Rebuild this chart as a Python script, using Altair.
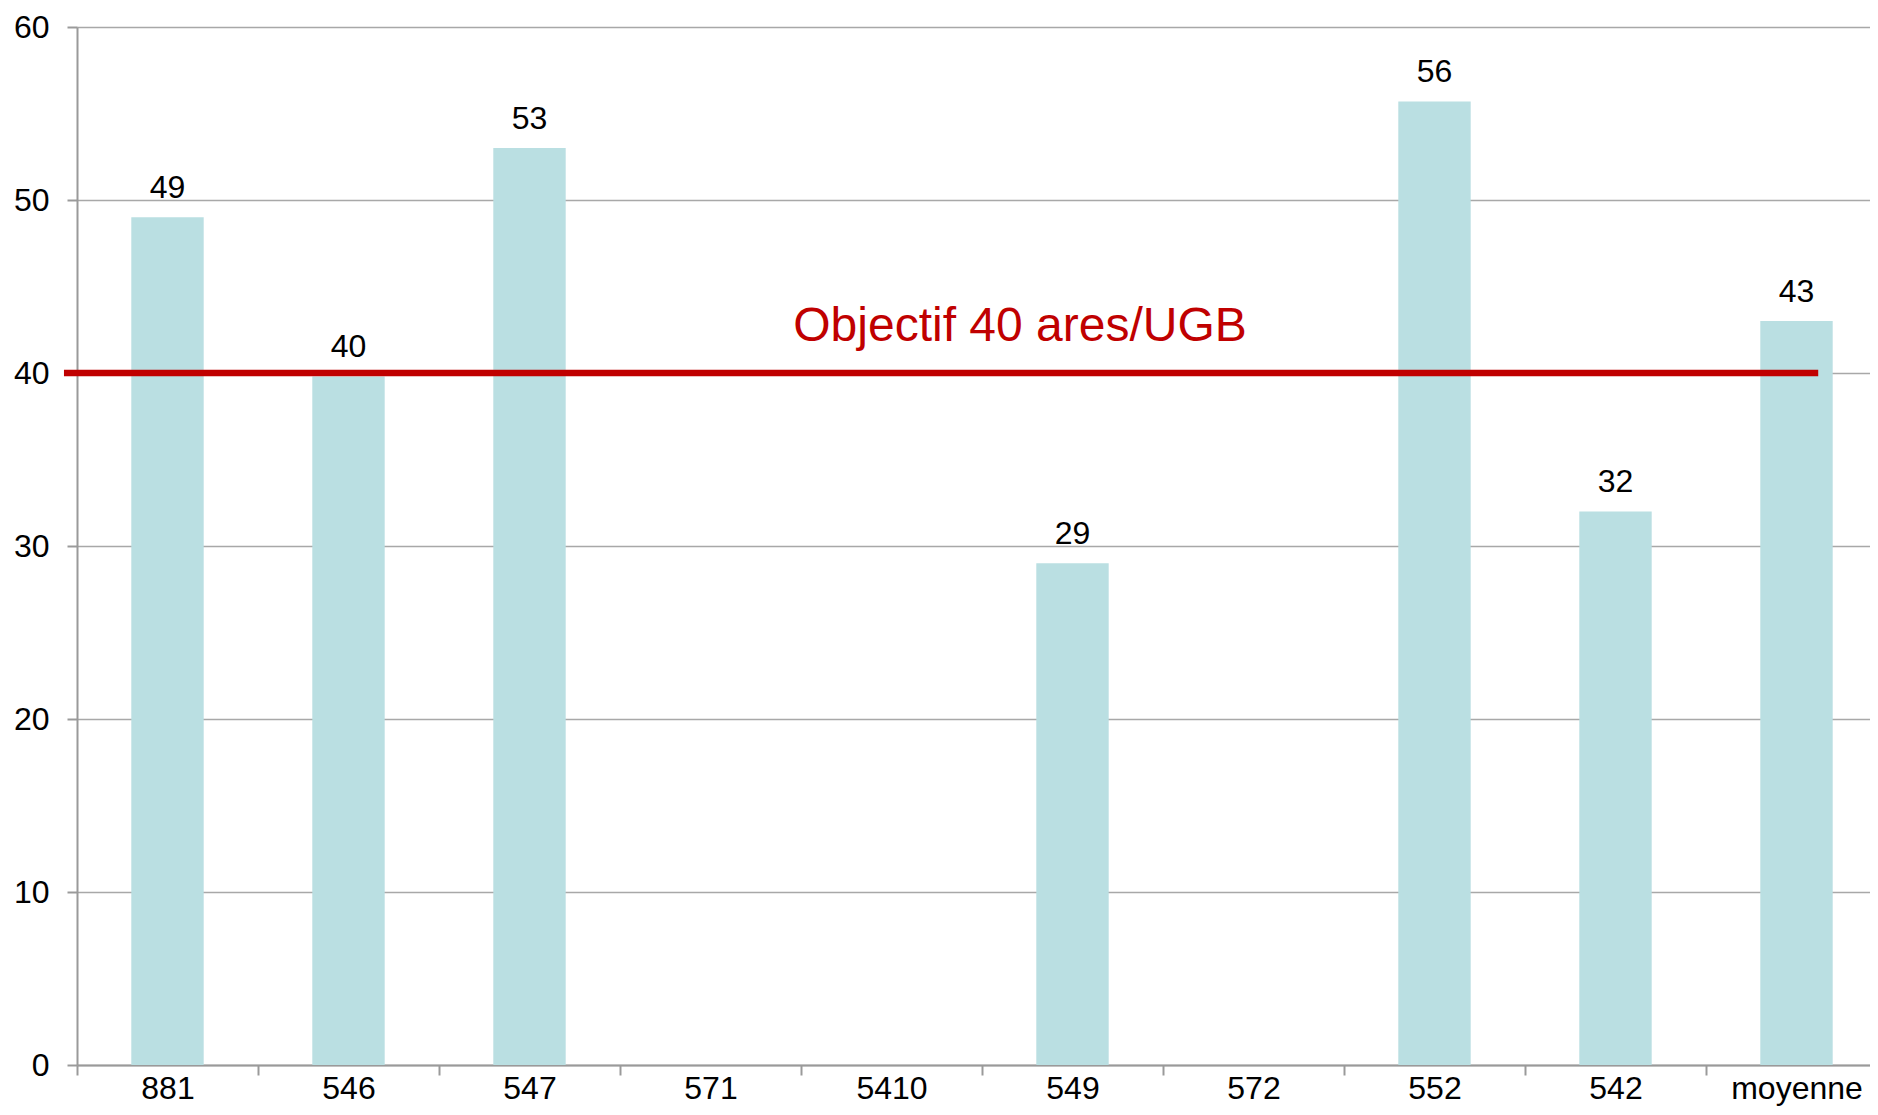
import altair as alt
import pandas as pd

categories = ["881", "546", "547", "571", "5410", "549", "572", "552", "542", "moyenne"]
values = [49, 39.8, 53, None, None, 29, None, 55.7, 32, 43]
value_labels = ["49", "40", "53", "", "", "29", "", "56", "32", "43"]
y_ticks = [0, 10, 20, 30, 40, 50, 60]

target_value = 40
target_label = "Objectif 40 ares/UGB"
# span of the target line and label centre, in category-index units
target_span = [-0.072, 9.62]
target_label_pos = 5.21

df = pd.DataFrame({"cat": categories, "val": values, "lab": value_labels})
tgt = pd.DataFrame({"x": [target_span[0]], "x2": [target_span[1]],
                    "y": [target_value], "lx": [target_label_pos], "t": [target_label]})

FONT = "Liberation Sans"
GREY = "#9A9A9A"
FS = 32

x_enc = alt.X("cat:N", sort=None, title=None,
              scale=alt.Scale(domain=categories, paddingInner=0, paddingOuter=0),
              axis=alt.Axis(labelAngle=0, tickBand="extent", labelFontSize=FS,
                            labelFont=FONT, labelColor="black", labelPadding=-2,
                            tickSize=10, tickColor=GREY, tickWidth=2,
                            domainColor=GREY, domainWidth=2, grid=False))
y_enc = alt.Y("val:Q", title=None,
              scale=alt.Scale(domain=[0, 60], nice=False),
              axis=alt.Axis(values=y_ticks, labelFontSize=FS, labelFont=FONT,
                            labelColor="black", labelPadding=18, tickSize=10,
                            tickColor=GREY, tickWidth=2, domainColor=GREY,
                            domainWidth=2, grid=True, gridColor="#A8A8A8",
                            gridWidth=1.5))

bars = alt.Chart(df).mark_bar(color="#BADFE2", width=alt.RelativeBandSize(0.4)).encode(
    x=x_enc, y=y_enc)

texts = alt.Chart(df).transform_filter("datum.lab != ''").mark_text(
    fontSize=FS, font=FONT, color="black", baseline="alphabetic", dy=-19
).encode(x=alt.X("cat:N", sort=None), y=alt.Y("val:Q"), text="lab:N")

base_cat = alt.layer(bars, texts)

qx = alt.Scale(domain=[0, 10], nice=False, zero=False)
rule = alt.Chart(tgt).mark_rule(color="#C00000", strokeWidth=6.5, strokeCap="butt").encode(
    x=alt.X("x:Q", scale=qx, axis=None),
    x2="x2:Q",
    y=alt.Y("y:Q"))
label = alt.Chart(tgt).mark_text(
    fontSize=48, font=FONT, color="#C00000", baseline="alphabetic", dy=-32
).encode(x=alt.X("lx:Q", scale=qx, axis=None), y=alt.Y("y:Q"), text="t:N")

overlay = alt.layer(rule, label)

chart = alt.layer(base_cat, overlay).resolve_scale(x="independent").properties(
    width=1810, height=1038,
    autosize=alt.AutoSizeParams(type="none"),
    padding={"left": 69, "top": 19, "right": -17, "bottom": 42},
).configure_view(stroke=None).configure(background="white")

chart.save("out.html", embed_options={"renderer": "svg", "actions": False})
